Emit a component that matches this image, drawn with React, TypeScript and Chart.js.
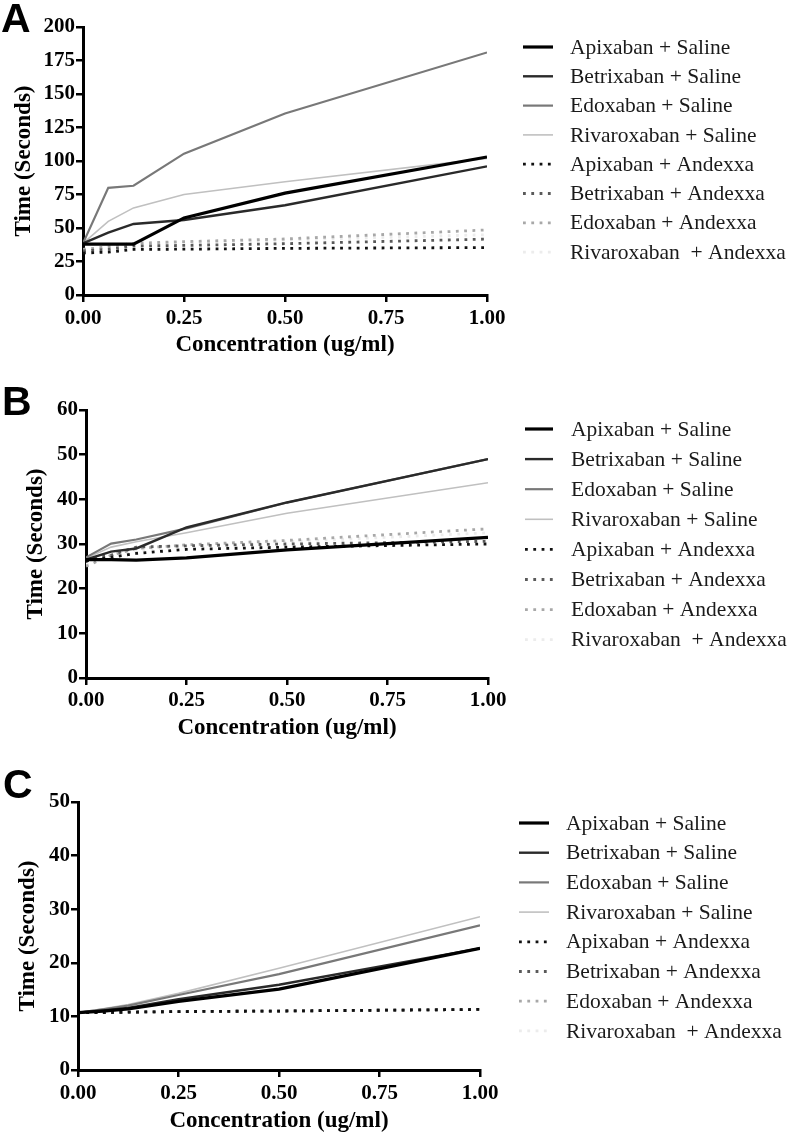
import React, { useEffect, useRef } from 'react';
import { Chart, registerables } from 'chart.js';

Chart.register(...registerables);

// ---------- data ----------
const concentrations = [0, 0.0625, 0.125, 0.25, 0.5, 1];
const xTickValues = [0, 0.25, 0.5, 0.75, 1];
const xTickLabels = ['0.00', '0.25', '0.50', '0.75', '1.00'];

const seriesNames = [
  'Apixaban + Saline',
  'Betrixaban + Saline',
  'Edoxaban + Saline',
  'Rivaroxaban + Saline',
  'Apixaban + Andexxa',
  'Betrixaban + Andexxa',
  'Edoxaban + Andexxa',
  'Rivaroxaban  + Andexxa',
];

// Panel A
const aYTicks = [0, 25, 50, 75, 100, 125, 150, 175, 200];
const aApixabanSaline = [38, 38, 38, 57.5, 76, 103];
const aBetrixabanSaline = [38.5, 46.5, 53, 56, 67, 96];
const aEdoxabanSaline = [38.5, 80, 81.5, 105.5, 135.5, 181];
const aRivaroxabanSaline = [38.5, 55, 65, 75, 84.5, 102];
const aApixabanAndexxa = [31.3, 32, 34, 34.2, 34.8, 35.4];
const aBetrixabanAndexxa = [33, 34, 36.5, 37, 38.3, 41.7];
const aEdoxabanAndexxa = [34, 36, 38.6, 39.8, 41.8, 48.6];
const aRivaroxabanAndexxa = [34, 36, 38, 39, 41, 45];

// Panel B
const bYTicks = [0, 10, 20, 30, 40, 50, 60];
const bApixabanSaline = [26.5, 26.5, 26.4, 26.9, 28.7, 31.5];
const bBetrixabanSaline = [26.5, 28.3, 29, 33.7, 39.3, 49];
const bEdoxabanSaline = [27, 30.1, 31, 33.5, 39.3, 49];
const bRivaroxabanSaline = [26.8, 29.3, 30.5, 32.5, 36.9, 43.7];
const bApixabanAndexxa = [26.2, 27, 27.9, 28.8, 29.3, 30];
const bBetrixabanAndexxa = [26.5, 27.5, 29.3, 29.6, 30, 30.6];
const bEdoxabanAndexxa = [25, 27.5, 29, 29.8, 30.8, 33.4];
const bRivaroxabanAndexxa = [25.5, 27, 28.5, 29.5, 30.5, 32.5];

// Panel C
const cYTicks = [0, 10, 20, 30, 40, 50];
const cApixabanSaline = [10.7, 11, 11.4, 12.8, 15.1, 22.7];
const cBetrixabanSaline = [10.7, 11.1, 11.6, 13.2, 15.9, 22.7];
const cEdoxabanSaline = [10.7, 11.3, 12, 14, 17.9, 27];
const cRivaroxabanSaline = [10.7, 11.4, 12.2, 14.3, 19, 28.6];
const cApixabanAndexxa = [10.7, 10.7, 10.8, 10.9, 11, 11.3];
const cBetrixabanAndexxa = [10.7, 10.7, 10.8, 10.9, 11, 11.3];
const cEdoxabanAndexxa = [10.7, 10.7, 10.8, 10.9, 11, 11.3];
const cRivaroxabanAndexxa = [10.7, 10.7, 10.8, 10.9, 11, 11.3];

// ---------- styles ----------
const seriesColors = ['#000000', '#2a2a2a', '#787878', '#c0c0c0', '#111111', '#5a5a5a', '#a8a8a8', '#ececec'];
const seriesWidths = [3.2, 2.4, 2.2, 1.6, 2.8, 2.8, 2.8, 2.8];
const seriesDashes = [[], [], [], [], [2.8, 5.5], [2.8, 5.5], [2.8, 5.5], [2.8, 5.5]];

const SERIF = '"Liberation Serif", "Times New Roman", serif';

const sideLegendPlugin = {
  id: 'sideLegend',
  afterDraw(chart: any, _args: any, opts: any) {
    const ctx = chart.ctx;
    ctx.save();
    chart.data.datasets.forEach((ds: any, i: number) => {
      const y = opts.y0 + i * opts.step;
      ctx.beginPath();
      ctx.strokeStyle = ds.borderColor;
      ctx.lineWidth = ds.borderWidth;
      ctx.lineCap = 'butt';
      ctx.setLineDash(ds.borderDash || []);
      ctx.moveTo(opts.x0, y);
      ctx.lineTo(opts.x1, y);
      ctx.stroke();
      ctx.setLineDash([]);
      ctx.fillStyle = '#1a1a1a';
      ctx.font = `21.5px ${SERIF}`;
      ctx.textBaseline = 'middle';
      ctx.textAlign = 'left';
      ctx.fillText(ds.label, opts.tx, y + 1);
    });
    ctx.fillStyle = '#000';
    ctx.font = 'bold 41px "Liberation Sans", Arial, sans-serif';
    ctx.textBaseline = 'alphabetic';
    ctx.fillText(opts.letter, opts.lx, opts.ly);
    ctx.restore();
  },
};

type PanelProps = {
  letter: string;
  series: number[][];
  yTicks: number[];
  top: number;
  height: number;
  padTop: number;
  padRight: number;
  yAxisWidth: number;
  xAxisHeight: number;
  yTitlePad: number;
  xTitlePad: number;
  xTickPad: number;
  legend: { x0: number; x1: number; tx: number; y0: number; step: number };
  letterPos: { x: number; y: number };
};

function Panel(p: PanelProps) {
  const ref = useRef<HTMLCanvasElement>(null);
  useEffect(() => {
    if (!ref.current) return;
    const datasets = p.series.map((vals, i) => ({
      label: seriesNames[i],
      data: concentrations.map((x, j) => ({ x, y: vals[j] })),
      borderColor: seriesColors[i],
      backgroundColor: seriesColors[i],
      borderWidth: seriesWidths[i],
      borderDash: seriesDashes[i],
      borderCapStyle: 'butt',
      pointRadius: 0,
      tension: 0,
      fill: false,
    }));
    const axisCommon = {
      grid: { drawOnChartArea: false, drawTicks: true, tickLength: 7, color: '#000', lineWidth: 2.5 },
      border: { display: true, color: '#000', width: 3 },
    };
    const chart = new Chart(ref.current, {
      type: 'line',
      data: { datasets } as any,
      options: {
        animation: false,
        responsive: false,
        maintainAspectRatio: false,
        layout: { padding: { top: p.padTop, right: p.padRight, left: 0, bottom: 0 } },
        plugins: {
          legend: { display: false },
          tooltip: { enabled: false },
          sideLegend: { ...p.legend, letter: p.letter, lx: p.letterPos.x, ly: p.letterPos.y },
        } as any,
        scales: {
          x: {
            type: 'linear',
            min: 0,
            max: 1,
            ...axisCommon,
            afterBuildTicks: (scale: any) => {
              scale.ticks = xTickValues.map((v) => ({ value: v }));
            },
            afterFit: (scale: any) => {
              scale.height = p.xAxisHeight;
            },
            ticks: {
              color: '#000',
              padding: p.xTickPad,
              maxRotation: 0,
              autoSkip: false,
              font: { family: SERIF, size: 21, weight: 'bold' },
              callback: (_v: any, i: number) => xTickLabels[i],
            },
            title: {
              display: true,
              text: 'Concentration (ug/ml)',
              color: '#000',
              font: { family: SERIF, size: 23, weight: 'bold' },
              padding: { top: 0, bottom: p.xTitlePad },
            },
          },
          y: {
            type: 'linear',
            min: p.yTicks[0],
            max: p.yTicks[p.yTicks.length - 1],
            ...axisCommon,
            afterBuildTicks: (scale: any) => {
              scale.ticks = p.yTicks.map((v) => ({ value: v }));
            },
            afterFit: (scale: any) => {
              scale.width = p.yAxisWidth;
            },
            ticks: {
              color: '#000',
              padding: 1,
              autoSkip: false,
              font: { family: SERIF, size: 21, weight: 'bold' },
              callback: (v: any) => String(v),
            },
            title: {
              display: true,
              text: 'Time (Seconds)',
              color: '#000',
              font: { family: SERIF, size: 23, weight: 'bold' },
              padding: { top: p.yTitlePad, bottom: 0 },
            },
          },
        },
      } as any,
      plugins: [sideLegendPlugin as any],
    });
    return () => chart.destroy();
  }, []);
  return (
    <canvas
      ref={ref}
      width={792}
      height={p.height}
      style={{ position: 'absolute', left: 0, top: p.top, width: 792, height: p.height, display: 'block' }}
    />
  );
}

export default function App() {
  return (
    <div style={{ position: 'absolute', left: 0, top: 0, width: 792, height: 1138, background: '#fff' }}>
      <Panel
        letter="A"
        series={[aApixabanSaline, aBetrixabanSaline, aEdoxabanSaline, aRivaroxabanSaline, aApixabanAndexxa, aBetrixabanAndexxa, aEdoxabanAndexxa, aRivaroxabanAndexxa]}
        yTicks={aYTicks}
        top={0}
        height={362}
        padTop={27}
        padRight={305}
        yAxisWidth={83}
        xAxisHeight={67}
        yTitlePad={10}
        xTitlePad={3}
        xTickPad={4}
        legend={{ x0: 523, x1: 553, tx: 570, y0: 47, step: 29.3 }}
        letterPos={{ x: 1, y: 32 }}
      />
      <Panel
        letter="B"
        series={[bApixabanSaline, bBetrixabanSaline, bEdoxabanSaline, bRivaroxabanSaline, bApixabanAndexxa, bBetrixabanAndexxa, bEdoxabanAndexxa, bRivaroxabanAndexxa]}
        yTicks={bYTicks}
        top={362}
        height={380}
        padTop={48}
        padRight={304}
        yAxisWidth={86}
        xAxisHeight={64}
        yTitlePad={22}
        xTitlePad={0}
        xTickPad={3}
        legend={{ x0: 525, x1: 553, tx: 571, y0: 67, step: 30.1 }}
        letterPos={{ x: 2, y: 53 }}
      />
      <Panel
        letter="C"
        series={[cApixabanSaline, cBetrixabanSaline, cEdoxabanSaline, cRivaroxabanSaline, cApixabanAndexxa, cBetrixabanAndexxa, cEdoxabanAndexxa, cRivaroxabanAndexxa]}
        yTicks={cYTicks}
        top={742}
        height={396}
        padTop={60}
        padRight={312}
        yAxisWidth={78}
        xAxisHeight={68}
        yTitlePad={14}
        xTitlePad={3}
        xTickPad={4}
        legend={{ x0: 519, x1: 549, tx: 566, y0: 81, step: 29.7 }}
        letterPos={{ x: 3, y: 56 }}
      />
    </div>
  );
}
